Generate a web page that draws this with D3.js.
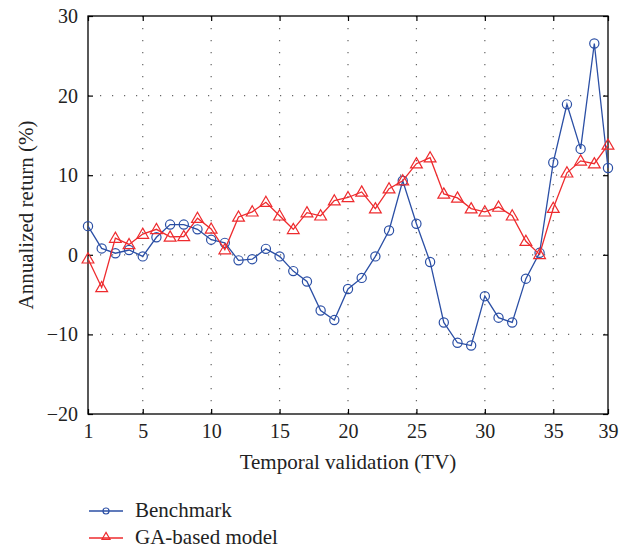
<!DOCTYPE html>
<html><head><meta charset="utf-8">
<script src="https://cdn.jsdelivr.net/npm/d3@7"></script>
<style>body{margin:0;background:#fff}svg{display:block}svg text{font-family:"Liberation Serif","DejaVu Serif",serif}</style>
</head><body>
<script>
const periods = d3.range(1, 40);
const benchmark = [3.6,0.8,0.2,0.6,-0.2,2.2,3.8,3.8,3.2,1.9,1.5,-0.7,-0.55,0.75,-0.2,-2.05,-3.35,-7.0,-8.2,-4.3,-2.9,-0.2,3.05,9.3,3.9,-0.9,-8.5,-11.05,-11.4,-5.2,-7.9,-8.5,-3.0,0.25,11.6,18.9,13.3,26.55,10.9];
const gaModel = [-0.5,-4.1,2.1,1.3,2.6,3.2,2.25,2.3,4.6,3.25,0.65,4.75,5.4,6.6,4.9,3.2,5.3,4.9,6.8,7.2,7.9,5.8,8.3,9.3,11.45,12.2,7.65,7.15,5.8,5.4,6.0,4.9,1.7,0.05,5.85,10.3,11.8,11.45,13.8];
const xTicks = [1,5,10,15,20,25,30,35,39];
const yTicks = [-20,-10,0,10,20,30];
const seriesNames = ["Benchmark","GA-based model"];
const colors = ["#2b4fa5","#ee2b2e"];

const W = 627, H = 548;
const L = 88, R = 608, T = 16, B = 414;
const svg = d3.select("body").append("svg").attr("width", W).attr("height", H);
const x = d3.scaleLinear().domain([1,39]).range([L,R]);
const y = d3.scaleLinear().domain([-20,30]).range([B,T]);

// grid
const grid = svg.append("g").attr("stroke","#666").attr("stroke-width",1.2).attr("stroke-dasharray","1.2,10.8");
grid.selectAll(".vg").data(xTicks.slice(1,-1)).join("line")
  .attr("x1",d=>x(d)).attr("x2",d=>x(d)).attr("y1",T).attr("y2",B);
grid.selectAll(".hg").data(yTicks.slice(1,-1)).join("line")
  .attr("y1",d=>y(d)).attr("y2",d=>y(d)).attr("x1",L).attr("x2",R);

// axes with inner ticks
const ax = (gen, tx, ty) => svg.append("g").attr("transform",`translate(${tx},${ty})`).call(gen)
  .attr("font-family",null)
  .call(g=>g.select(".domain").remove())
  .call(g=>g.selectAll("line").attr("stroke","#000").attr("stroke-width",1.2))
  .call(g=>g.selectAll("text").attr("font-size",20).attr("fill","#222"));
ax(d3.axisBottom(x).tickValues(xTicks).tickSize(-5).tickPadding(10).tickFormat(d3.format("d")), 0, B);
ax(d3.axisTop(x).tickValues(xTicks).tickSize(-5).tickFormat(""), 0, T);
ax(d3.axisLeft(y).tickValues(yTicks).tickSize(-5).tickPadding(10).tickFormat(d=>d<0?"\u2212"+(-d):d), L, 0);
ax(d3.axisRight(y).tickValues(yTicks).tickSize(-5).tickFormat(""), R, 0);

svg.append("rect").attr("x",L).attr("y",T).attr("width",R-L).attr("height",B-T)
  .attr("fill","none").attr("stroke","#000").attr("stroke-width",1.3);

// series
const line = d3.line().x((d,i)=>x(periods[i])).y(d=>y(d));
const tri = d3.symbol().type(d3.symbolTriangle).size(60);
[benchmark, gaModel].forEach((data, k) => {
  svg.append("path").datum(data).attr("d", line).attr("fill","none")
    .attr("stroke", colors[k]).attr("stroke-width",1.3);
  const g = svg.append("g");
  if (k === 0) {
    g.selectAll("circle").data(data).join("circle")
      .attr("cx",(d,i)=>x(periods[i])).attr("cy",d=>y(d)).attr("r",4.6)
      .attr("fill","none").attr("stroke",colors[k]).attr("stroke-width",1.2);
  } else {
    g.selectAll("path").data(data).join("path")
      .attr("d", tri).attr("transform",(d,i)=>`translate(${x(periods[i])},${y(d)+0.8})`)
      .attr("fill","none").attr("stroke",colors[k]).attr("stroke-width",1.2);
  }
});

// axis titles
svg.append("text").attr("x",(L+R)/2).attr("y",469).attr("text-anchor","middle")
  .attr("font-size",21).attr("fill","#222").text("Temporal validation (TV)");
svg.append("text").attr("transform",`translate(33,${(T+B)/2}) rotate(-90)`).attr("text-anchor","middle")
  .attr("font-size",21).attr("fill","#222").text("Annualized return (%)");

// legend
seriesNames.forEach((name,k)=>{
  const ly = 511 + k*27;
  const g = svg.append("g");
  g.append("line").attr("x1",89).attr("x2",123).attr("y1",ly).attr("y2",ly).attr("stroke",colors[k]).attr("stroke-width",1.3);
  if (k===0) g.append("circle").attr("cx",106).attr("cy",ly).attr("r",3).attr("fill","none").attr("stroke",colors[k]).attr("stroke-width",1.2);
  else g.append("path").attr("d",d3.symbol().type(d3.symbolTriangle).size(28)).attr("transform",`translate(106,${ly-1})`).attr("fill","none").attr("stroke",colors[k]).attr("stroke-width",1.2);
  g.append("text").attr("x",135).attr("y",ly+6).attr("font-size",21).attr("fill","#222").text(name);
});
</script>
</body></html>
